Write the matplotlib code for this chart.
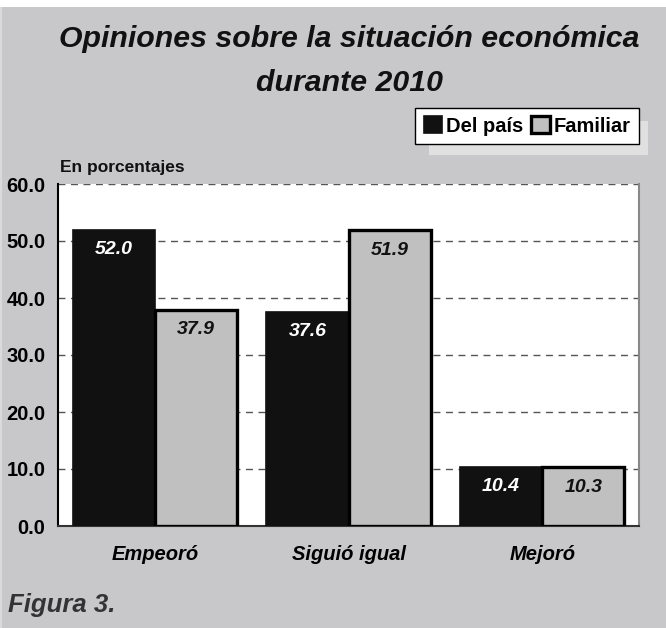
import matplotlib
matplotlib.use("Agg")
import matplotlib.pyplot as plt
from matplotlib.patches import Rectangle
import numpy as np

categories = ["Empeoró", "Siguió igual", "Mejoró"]
del_pais = [52.0, 37.6, 10.4]
familiar = [37.9, 51.9, 10.3]
series_names = ["Del país", "Familiar"]
yticks = [0, 10, 20, 30, 40, 50, 60]

plt.rcParams['font.family'] = ['Liberation Sans', 'DejaVu Sans']

bg = "#C8C8CA"
fig = plt.figure(figsize=(6.66, 6.28), dpi=100, facecolor=bg)

# white strip at very top and faint light edge at left
fig.patches.append(Rectangle((0, 1-7/628), 1, 7/628, transform=fig.transFigure,
                             facecolor="white", edgecolor="none", zorder=0))
fig.patches.append(Rectangle((0, 0), 2/666, 1-7/628, transform=fig.transFigure,
                             facecolor="#DADADC", edgecolor="none", zorder=0))

ax = fig.add_axes([58/666, 1-526/628, (639-58)/666, (526-184)/628])
ax.set_facecolor("white")

x = np.arange(len(categories))
w = 0.424
b1 = ax.bar(x - w/2, del_pais, w, color="#111111", edgecolor="#111111", linewidth=1.2, label=series_names[0], zorder=3)
b2 = ax.bar(x + w/2, familiar, w, color="#C0C0C0", edgecolor="black", linewidth=2.4, label=series_names[1], zorder=3)

for xi, v in zip(x - w/2, del_pais):
    ax.text(xi, v - 2.0, f"{v:.1f}", ha="center", va="top", color="white",
            fontsize=14, fontweight="bold", fontstyle="italic", zorder=4)
for xi, v in zip(x + w/2, familiar):
    ax.text(xi, v - 2.0, f"{v:.1f}", ha="center", va="top", color="#111111",
            fontsize=14, fontweight="bold", fontstyle="italic", zorder=4)

ax.set_xlim(-0.5, 2.5)
ax.set_ylim(0, 60)
ax.set_yticks(yticks)
ax.set_yticklabels([f"{t:.1f}" for t in yticks], fontsize=14.5, fontweight="bold")
ax.set_xticks(x)
ax.set_xticklabels(categories, fontsize=14.5, fontweight="bold", fontstyle="italic")
ax.tick_params(axis="x", length=0, pad=14)
ax.tick_params(axis="y", length=0, pad=9)
ax.yaxis.grid(True, linestyle=(0, (5, 4)), color="#555555", linewidth=1.0, zorder=0)
ax.set_axisbelow(True)
ax.spines["top"].set_visible(False)
ax.spines["left"].set_color("black")
ax.spines["left"].set_linewidth(1.5)
ax.spines["bottom"].set_color("#333333")
ax.spines["bottom"].set_linewidth(1.5)
ax.spines["right"].set_color("#888888")
ax.spines["right"].set_linewidth(1.5)

fig.text(349/666, 1-47/628, "Opiniones sobre la situación económica", ha="center", va="baseline",
         fontsize=21.8, fontweight="bold", fontstyle="italic", color="#111111")
fig.text(349/666, 1-91/628, "durante 2010", ha="center", va="baseline",
         fontsize=21.8, fontweight="bold", fontstyle="italic", color="#111111")

fig.text(60/666, 1-168/628, "En porcentajes", ha="left", va="center",
         fontsize=12.5, fontweight="bold", color="#111111")
fig.text(8/666, 1-605/628, "Figura 3.", ha="left", va="center",
         fontsize=18.5, fontweight="bold", fontstyle="italic", color="#333333")

# legend shadow
fig.patches.append(Rectangle((429/666, 1-155/628), (648-429)/666, (155-121)/628,
                             transform=fig.transFigure, facecolor="#E0E0E0", edgecolor="none", zorder=0))
leg = fig.legend(handles=[b1, b2], labels=series_names, loc="upper right",
                 bbox_to_anchor=(639/666, 1-108/628), ncol=2, frameon=True, fancybox=False,
                 edgecolor="black", framealpha=1, prop={"weight": "bold", "size": 14.5},
                 handlelength=0.9, handleheight=0.9, handletextpad=0.2, columnspacing=0.4,
                 borderpad=0.42, borderaxespad=0)
leg.get_frame().set_linewidth(1.0)

fig.savefig("out.png", dpi=100, facecolor=bg)
